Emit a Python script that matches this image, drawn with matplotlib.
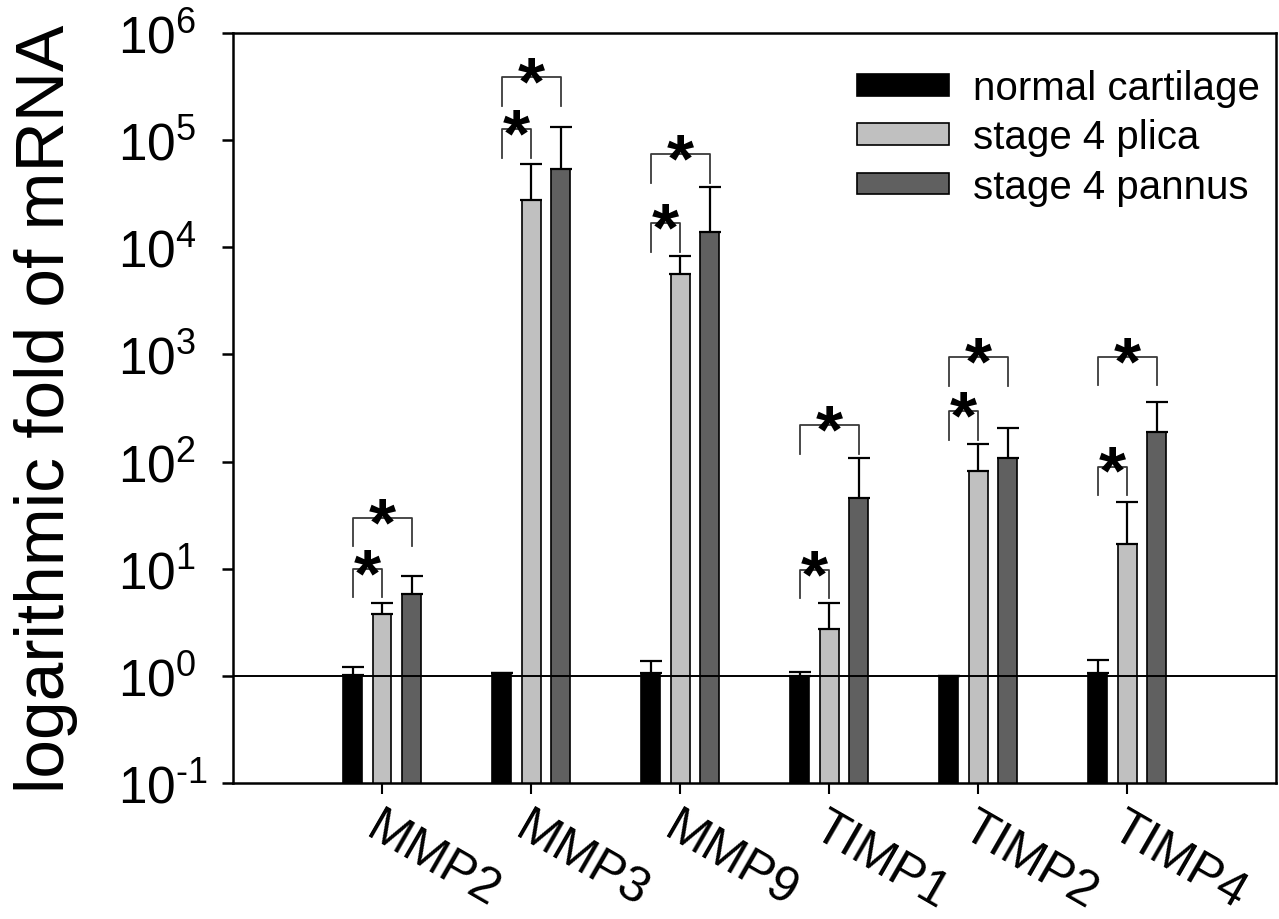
import numpy as np
import matplotlib
matplotlib.use("Agg")
import matplotlib.pyplot as plt
from matplotlib.patches import Patch

plt.rcParams["font.family"] = ["Liberation Sans", "DejaVu Sans"]
plt.rcParams["mathtext.fontset"] = "custom"
plt.rcParams["mathtext.rm"] = "Liberation Sans"
plt.rcParams["mathtext.default"] = "regular"

# Data
genes = ["MMP2", "MMP3", "MMP9", "TIMP1", "TIMP2", "TIMP4"]
series = ["normal cartilage", "stage 4 plica", "stage 4 pannus"]
normal = [1.02, 1.06, 1.06, 1.0, 1.0, 1.06]
normal_err = [0.19, 0.0, 0.32, 0.08, 0.0, 0.35]
plica = [3.8, 2.75e4, 5.6e3, 2.75, 82, 17]
plica_err = [1.0, 3.3e4, 2.7e3, 2.05, 65, 25]
pannus = [5.8, 5.4e4, 1.38e4, 46, 109, 190]
pannus_err = [2.8, 8.0e4, 2.3e4, 63, 99, 173]

# significance brackets: top of bracket (normal vs plica, normal vs pannus)
sig_plica_top = [10, 1.26e5, 1.67e4, 9.8, 294, 90]
sig_pannus_top = [30, 3.9e5, 7.4e4, 218, 937, 955]

exponents = [-1, 0, 1, 2, 3, 4, 5, 6]

colors = ["#000000", "#c0c0c0", "#606060"]

fig = plt.figure(figsize=(12.79, 9.2), dpi=100)
ax = fig.add_axes([0.1822, 0.1478, 0.8155, 0.8152])

x = np.arange(len(genes))
offsets = [-0.197, 0.0, 0.2]
width = 0.127
values = [normal, plica, pannus]
errors = [normal_err, plica_err, pannus_err]

for k in range(3):
    ax.bar(x + offsets[k], values[k], width=width, color=colors[k],
           edgecolor="black", linewidth=1.2, log=True, zorder=2)
    ax.errorbar(x + offsets[k], values[k],
                yerr=[np.zeros(len(genes)), errors[k]],
                fmt="none", ecolor="black", elinewidth=1.6,
                capsize=8, capthick=1.6, zorder=3)

# baseline at 1
ax.axhline(1, color="black", linewidth=1.4, zorder=4)

# significance brackets with stars
leg = 0.54
for i in range(len(genes)):
    for k, top in ((1, sig_plica_top[i]), (2, sig_pannus_top[i])):
        x0 = x[i] + offsets[0]
        x1 = x[i] + offsets[k]
        ax.plot([x0, x0, x1, x1], [top * leg, top, top, top * leg],
                color="#3a3a3a", linewidth=1.3, zorder=3)
        ax.annotate("*", xy=((x0 + x1) / 2, top), xytext=(0, -19),
                    textcoords="offset points", ha="center", va="baseline",
                    fontsize=50, fontweight="bold", color="black")

ax.set_yscale("log")
ax.set_ylim(1e-1, 1e6)
ax.set_xlim(-1, 6)
ax.set_yticks([10.0 ** p for p in exponents])
ax.set_yticklabels(["$10^{\\text{%d}}$" % p for p in exponents])
ax.yaxis.set_minor_locator(matplotlib.ticker.NullLocator())

ax.set_xticks(x)
ax.set_xticklabels(genes, rotation=-30, ha="left", rotation_mode="anchor",
                   fontsize=36)
ax.tick_params(axis="x", direction="out", length=8, width=1.5, pad=7)
ax.tick_params(axis="y", direction="out", length=8, width=1.8, pad=75,
               labelsize=37)
for lab in ax.get_yticklabels():
    lab.set_horizontalalignment("left")

for sp in ax.spines.values():
    sp.set_linewidth(1.8)

ax.set_ylabel("logarithmic fold of mRNA", fontsize=50)
ax.yaxis.set_label_coords(-0.149, 0.5)

handles = [Patch(facecolor=c, edgecolor="black", linewidth=1.2) for c in colors]
ax.legend(handles, series, loc="upper right", frameon=False, fontsize=29,
          handlelength=2.3, handleheight=0.45, handletextpad=0.6,
          labelspacing=0.28, borderaxespad=0.2, bbox_to_anchor=(1.008, 0.984))

fig.savefig("out.png", dpi=100)
